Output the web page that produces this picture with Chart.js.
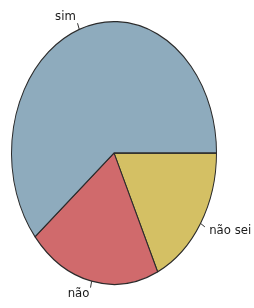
<!DOCTYPE html>
<html>
<head>
<meta charset="utf-8">
<script src="https://cdn.jsdelivr.net/npm/chart.js@4"></script>
<style>
  html, body { margin: 0; padding: 0; background: #fff; }
  #wrap { width: 254px; height: 308px; }
</style>
</head>
<body>
<div id="wrap"><canvas id="pizza" width="254" height="308"></canvas></div>
<script>
// fatias em sentido horário a partir das 3h (o R desenha anti-horário, por isso a ordem invertida)
const categorias = ["não sei", "não", "sim"];
const valores = [18, 21, 61];
const cores = ["#d4c064", "#d06a6c", "#8eabbd"];

// a pizza do original é uma elipse: esticamos na vertical
const ESTICA_Y = 132 / 103;

const elipse = {
  id: "elipse",
  beforeDatasetsDraw(chart) {
    const arc = chart.getDatasetMeta(0).data[0];
    const ctx = chart.ctx;
    ctx.save();
    ctx.translate(arc.x, arc.y);
    ctx.scale(1, ESTICA_Y);
    ctx.translate(-arc.x, -arc.y);
  },
  afterDatasetsDraw(chart) {
    const ctx = chart.ctx;
    ctx.restore();
    // rótulos estilo pie() do R: traço de 1.0 a 1.05 do raio, texto a 1.1
    const meta = chart.getDatasetMeta(0);
    ctx.save();
    ctx.font = "13px 'DejaVu Sans Condensed', sans-serif";
    ctx.fillStyle = "#1a1a1a";
    ctx.strokeStyle = "#333";
    ctx.lineWidth = 1;
    ctx.textBaseline = "middle";
    meta.data.forEach((arc, i) => {
      const meio = (arc.startAngle + arc.endAngle) / 2;
      const ponto = f => [arc.x + Math.cos(meio) * arc.outerRadius * f,
                          arc.y + Math.sin(meio) * arc.outerRadius * f * ESTICA_Y];
      const [x1, y1] = ponto(1);
      const [x2, y2] = ponto(1.05);
      ctx.beginPath();
      ctx.moveTo(x1, y1);
      ctx.lineTo(x2, y2);
      ctx.stroke();
      const [tx, ty] = ponto(1.1);
      ctx.textAlign = Math.cos(meio) < 0 ? "right" : "left";
      ctx.fillText(categorias[i], tx, ty);
    });
    ctx.restore();
  },
};

new Chart(document.getElementById("pizza"), {
  type: "pie",
  data: {
    labels: categorias,
    datasets: [{
      data: valores,
      backgroundColor: cores,
      borderColor: "#2b2b2b",
      borderWidth: 1,
    }],
  },
  options: {
    responsive: false,
    animation: false,
    events: [],
    rotation: 90,
    layout: { padding: { left: 11, right: 37, top: 50, bottom: 52 } },
    plugins: { legend: { display: false }, tooltip: { enabled: false } },
  },
  plugins: [elipse],
});
</script>
</body>
</html>
